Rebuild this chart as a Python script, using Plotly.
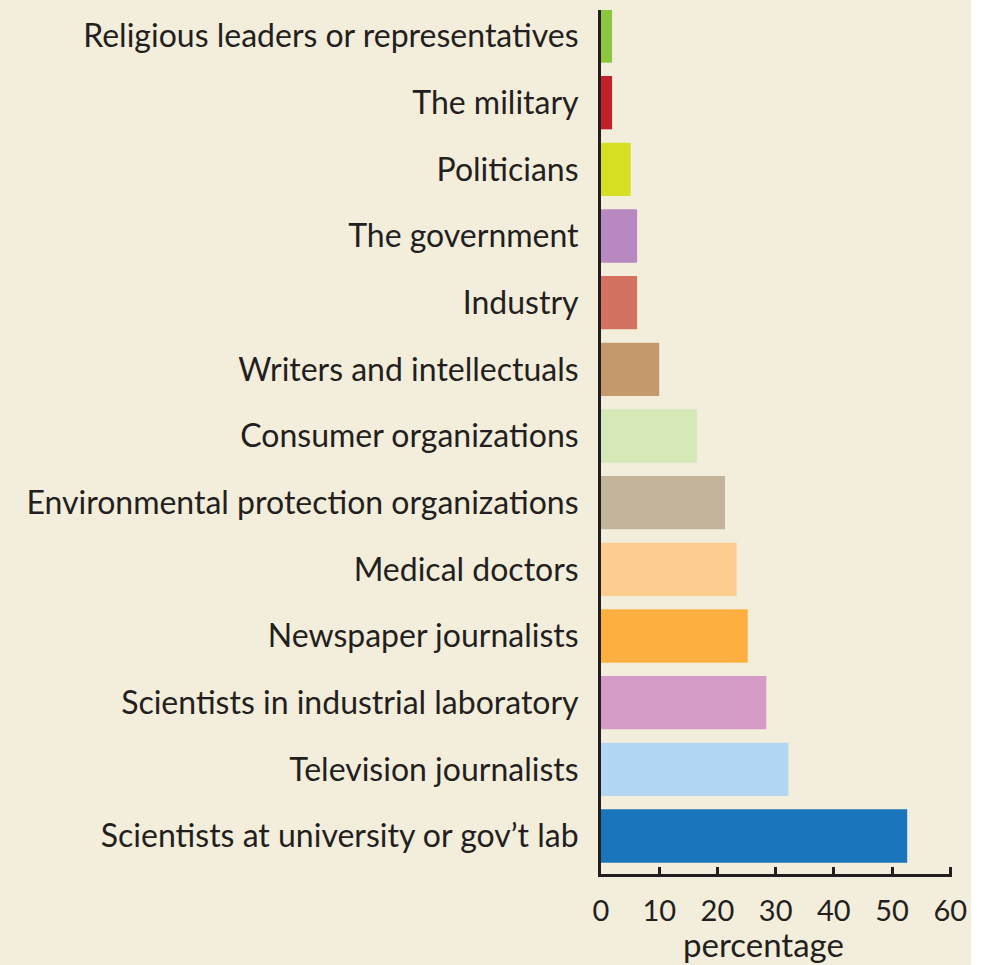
import plotly.graph_objects as go

categories = [
    "Scientists at university or gov\u2019t lab",
    "Television journalists",
    "Scientists in industrial laboratory",
    "Newspaper journalists",
    "Medical doctors",
    "Environmental protection organizations",
    "Consumer organizations",
    "Writers and intellectuals",
    "Industry",
    "The government",
    "Politicians",
    "The military",
    "Religious leaders or representatives",
]
values = [52.6, 32.2, 28.4, 25.2, 23.3, 21.3, 16.5, 10.0, 6.2, 6.2, 5.1, 1.9, 1.9]
colors = ["#1b75bc", "#b3d7f2", "#d39bc5", "#fdb040", "#fdcd8f", "#c2b49a",
          "#d5e8b8", "#c49a6c", "#d47262", "#b888c0", "#d7df23", "#c4202b", "#8cc63f"]
x_ticks = [0, 10, 20, 30, 40, 50, 60]
x_title = "percentage"

bg = "#f3eddb"
ink = "#231f20"
font_family = "Lato, Open Sans, sans-serif"

fig = go.Figure()
fig.add_trace(go.Bar(
    x=values,
    y=list(range(len(categories))),
    orientation="h",
    marker=dict(color=colors, line=dict(width=0)),
    width=0.8,
    hoverinfo="x+y",
))

fig.update_layout(
    width=982, height=965,
    margin=dict(l=601, r=30, t=10, b=91),
    paper_bgcolor=bg,
    plot_bgcolor=bg,
    showlegend=False,
    font=dict(family=font_family, color=ink, size=30),
    shapes=[dict(type="rect", xref="paper", yref="paper",
                 x0=1.054, x1=1.2, y0=-0.2, y1=1.1,
                 fillcolor="white", line=dict(width=0), layer="below")],
    annotations=[dict(text=x_title, xref="paper", yref="paper",
                      x=0.464, y=-0.081, xanchor="center", yanchor="middle",
                      showarrow=False, font=dict(size=33, color=ink))],
)
fig.update_xaxes(
    range=[0, 60.3],
    tickvals=x_ticks,
    ticktext=[str(v) for v in x_ticks],
    ticks="inside", ticklen=7, tickwidth=3, tickcolor=ink,
    showline=True, linewidth=3, linecolor=ink,
    showgrid=False, zeroline=False,
    tickfont=dict(size=29, color=ink),
    ticklabelstandoff=9,
)
fig.update_yaxes(
    range=[-0.57, 12.39],
    tickvals=list(range(len(categories))),
    ticktext=categories,
    ticks="", showline=True, linewidth=3, linecolor=ink,
    showgrid=False, zeroline=False,
    tickfont=dict(size=32, color=ink),
    ticklabelstandoff=13,
)

fig.write_html(
    "out.html",
    config={"displayModeBar": False},
    post_script="document.body.style.margin='0';document.body.style.overflow='hidden';",
)
